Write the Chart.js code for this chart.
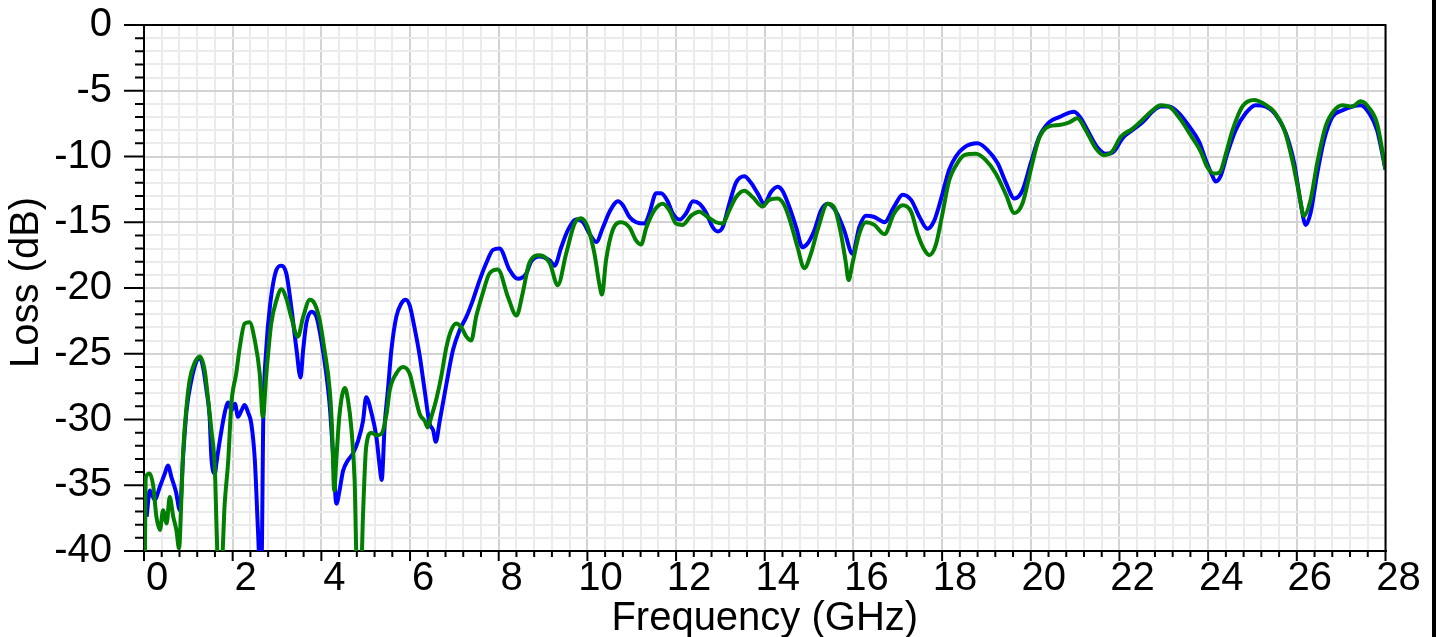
<!DOCTYPE html>
<html>
<head>
<meta charset="utf-8">
<title>Loss vs Frequency</title>
<script src="https://cdn.jsdelivr.net/npm/chart.js"></script>
<style>
    html, body { margin: 0; padding: 0; background: #fff; }
    canvas { display: block; }
</style>
</head>
<body>
<canvas id="lossChart" width="1436" height="637"></canvas>
<script>
// Frequency in GHz, loss in dB
const blueFreq = [
    0.06, 0.13, 0.24, 0.36, 0.47, 0.54, 0.62, 0.72, 0.81, 0.88,
    0.96, 1.07, 1.18, 1.26, 1.33, 1.41, 1.48, 1.52, 1.60, 1.63,
    1.71, 1.82, 1.90, 1.97, 2.05, 2.12, 2.20, 2.27, 2.35, 2.42,
    2.50, 2.57, 2.61, 2.65, 2.69, 2.76, 2.84, 2.99, 3.10, 3.21,
    3.32, 3.44, 3.53, 3.59, 3.66, 3.78, 3.89, 4.00, 4.11, 4.19,
    4.26, 4.34, 4.41, 4.49, 4.60, 4.71, 4.83, 4.94, 5.01, 5.13,
    5.24, 5.31, 5.36, 5.43, 5.50, 5.58, 5.69, 5.80, 5.90, 5.99,
    6.10, 6.22, 6.33, 6.44, 6.52, 6.58, 6.67, 6.82, 6.97, 7.12,
    7.27, 7.42, 7.57, 7.72, 7.87, 8.02, 8.24, 8.43, 8.62, 8.73,
    8.92, 9.15, 9.26, 9.41, 9.56, 9.75, 9.90, 10.05, 10.20, 10.35,
    10.50, 10.69, 10.80, 10.95, 11.10, 11.29, 11.40, 11.55, 11.66, 11.81,
    11.92, 12.08, 12.23, 12.38, 12.53, 12.68, 12.83, 12.94, 13.05, 13.20,
    13.35, 13.54, 13.69, 13.84, 13.99, 14.14, 14.29, 14.40, 14.55, 14.71,
    14.85, 14.97, 15.12, 15.27, 15.42, 15.61, 15.79, 15.98, 16.13, 16.28,
    16.47, 16.70, 16.92, 17.11, 17.30, 17.49, 17.67, 17.82, 17.97, 18.16,
    18.31, 18.50, 18.80, 19.02, 19.25, 19.44, 19.63, 19.81, 20.00, 20.19,
    20.41, 20.64, 20.98, 21.13, 21.31, 21.50, 21.69, 21.88, 22.07, 22.29,
    22.52, 22.74, 22.93, 23.12, 23.34, 23.57, 23.80, 23.95, 24.10, 24.17,
    24.28, 24.43, 24.62, 24.85, 25.07, 25.30, 25.52, 25.75, 25.94, 26.09,
    26.20, 26.31, 26.46, 26.61, 26.80, 27.02, 27.25, 27.44, 27.63, 27.81,
    28.00
]
const blueLoss = [
    -37.4, -35.4, -36.1, -35.1, -34.1, -33.5, -34.4, -35.5, -36.9, -32.9,
    -29.3, -27.0, -25.6, -25.3, -26.0, -27.8, -29.8, -32.9, -34.1, -33.4,
    -31.6, -29.5, -28.7, -29.3, -28.8, -29.8, -29.3, -28.9, -29.5, -30.3,
    -33.1, -38.4, -41.0, -41.0, -30.0, -24.5, -21.4, -18.6, -18.3, -18.9,
    -21.4, -24.7, -26.8, -24.7, -22.7, -21.8, -22.2, -24.0, -26.5, -29.0,
    -32.5, -36.4, -35.4, -33.9, -33.1, -32.6, -31.6, -30.1, -28.3, -29.5,
    -31.3, -33.4, -34.6, -30.3, -27.8, -24.7, -22.2, -21.2, -20.9, -21.3,
    -23.0, -25.2, -27.8, -30.3, -30.8, -31.7, -30.1, -27.3, -24.7, -23.2,
    -22.2, -20.9, -19.4, -18.1, -17.1, -17.0, -18.6, -19.3, -18.9, -18.0,
    -17.6, -17.9, -18.3, -16.9, -15.6, -14.8, -15.0, -15.9, -16.5, -15.4,
    -14.2, -13.4, -13.7, -14.6, -15.0, -15.1, -14.3, -12.8, -12.8, -13.4,
    -14.3, -14.8, -14.3, -13.4, -13.6, -14.3, -15.4, -15.7, -15.4, -13.6,
    -12.0, -11.5, -12.0, -12.8, -13.6, -12.7, -12.3, -12.6, -13.8, -15.4,
    -16.9, -16.6, -15.6, -14.1, -13.6, -14.2, -15.6, -17.4, -15.4, -14.5,
    -14.6, -15.0, -13.8, -12.9, -13.3, -14.6, -15.5, -14.9, -13.3, -11.0,
    -10.0, -9.3, -9.0, -9.5, -10.5, -12.0, -13.2, -12.6, -10.5, -8.5,
    -7.4, -7.0, -6.6, -7.1, -8.2, -9.3, -9.8, -9.6, -8.6, -8.0,
    -7.4, -6.6, -6.2, -6.2, -6.7, -7.7, -8.9, -10.3, -11.5, -11.9,
    -11.5, -9.8, -8.0, -6.7, -6.1, -6.2, -6.8, -8.2, -10.5, -13.6,
    -15.2, -14.3, -11.3, -8.8, -7.0, -6.5, -6.2, -6.1, -6.7, -8.0,
    -11.0
]
const greenFreq = [
    0.02, 0.04, 0.13, 0.21, 0.28, 0.36, 0.43, 0.51, 0.58, 0.66,
    0.73, 0.79, 0.85, 0.88, 0.96, 1.03, 1.14, 1.26, 1.37, 1.44,
    1.52, 1.60, 1.63, 1.67, 1.75, 1.82, 1.90, 1.97, 2.08, 2.16,
    2.27, 2.38, 2.50, 2.61, 2.68, 2.76, 2.87, 2.99, 3.10, 3.21,
    3.32, 3.47, 3.59, 3.74, 3.85, 3.96, 4.07, 4.19, 4.24, 4.29,
    4.34, 4.41, 4.53, 4.60, 4.68, 4.75, 4.80, 4.90, 4.94, 5.01,
    5.13, 5.24, 5.35, 5.47, 5.54, 5.69, 5.84, 5.99, 6.10, 6.22,
    6.33, 6.40, 6.48, 6.59, 6.70, 6.82, 6.93, 7.04, 7.16, 7.27,
    7.38, 7.49, 7.64, 7.79, 7.98, 8.21, 8.40, 8.54, 8.69, 8.92,
    9.15, 9.33, 9.52, 9.71, 9.86, 10.01, 10.16, 10.27, 10.33, 10.42,
    10.57, 10.76, 10.95, 11.10, 11.21, 11.33, 11.51, 11.70, 11.85, 12.00,
    12.15, 12.34, 12.53, 12.71, 12.90, 13.05, 13.20, 13.35, 13.54, 13.73,
    13.95, 14.10, 14.29, 14.44, 14.59, 14.74, 14.89, 15.04, 15.19, 15.42,
    15.57, 15.72, 15.83, 15.89, 15.98, 16.13, 16.28, 16.47, 16.70, 16.92,
    17.11, 17.30, 17.45, 17.60, 17.71, 17.86, 18.01, 18.16, 18.31, 18.50,
    18.76, 18.99, 19.21, 19.44, 19.63, 19.81, 20.00, 20.19, 20.41, 20.64,
    20.87, 21.05, 21.24, 21.47, 21.65, 21.84, 22.03, 22.29, 22.52, 22.74,
    22.93, 23.16, 23.38, 23.61, 23.83, 23.98, 24.13, 24.26, 24.40, 24.55,
    24.77, 25.04, 25.26, 25.49, 25.71, 25.90, 26.05, 26.16, 26.31, 26.46,
    26.65, 26.84, 27.03, 27.25, 27.44, 27.63, 27.81, 28.00
]
const greenLoss = [
    -40.5, -34.4, -34.1, -35.1, -37.4, -38.4, -36.9, -37.9, -35.9, -37.4,
    -38.4, -39.8, -35.4, -32.6, -29.0, -27.0, -25.7, -25.2, -26.3, -28.3,
    -30.8, -33.9, -37.4, -41.0, -41.0, -36.4, -33.1, -28.8, -26.5, -24.5,
    -22.7, -22.6, -24.0, -26.5, -29.8, -26.5, -22.7, -20.9, -20.1, -20.8,
    -22.2, -23.7, -22.2, -20.9, -21.2, -22.4, -24.7, -27.8, -30.6, -35.4,
    -32.9, -29.6, -27.6, -28.5, -30.8, -34.6, -41.0, -41.0, -37.2, -32.1,
    -31.0, -31.2, -31.1, -29.6, -27.8, -26.5, -26.0, -26.5, -28.0, -29.6,
    -30.1, -30.6, -29.8, -28.5, -26.8, -24.5, -23.2, -22.7, -23.0, -23.7,
    -24.0, -22.2, -20.4, -18.9, -18.6, -20.7, -22.1, -20.4, -18.1, -17.5,
    -18.1, -19.8, -17.4, -15.1, -14.7, -15.4, -17.4, -19.7, -20.5, -17.9,
    -15.6, -15.0, -15.4, -16.4, -16.7, -15.4, -14.1, -13.6, -14.1, -15.1,
    -15.2, -14.5, -14.2, -14.6, -15.0, -15.1, -14.1, -13.1, -12.6, -13.1,
    -13.8, -13.3, -13.2, -13.7, -15.1, -16.9, -18.5, -17.4, -15.6, -13.6,
    -13.9, -15.9, -18.1, -19.4, -18.1, -15.9, -15.0, -15.2, -15.9, -14.3,
    -13.7, -14.2, -15.9, -17.1, -17.5, -16.7, -14.3, -11.8, -10.7, -9.9,
    -9.8, -10.3, -11.3, -12.9, -14.3, -13.6, -11.0, -8.6, -7.7, -7.6,
    -7.4, -7.1, -8.0, -9.4, -9.9, -9.6, -8.5, -7.9, -7.2, -6.5,
    -6.1, -6.3, -7.2, -8.4, -9.6, -10.8, -11.3, -11.2, -9.8, -8.0,
    -6.2, -5.7, -6.0, -6.6, -7.9, -10.3, -12.8, -14.5, -13.3, -10.5,
    -7.7, -6.5, -6.1, -6.2, -5.8, -6.3, -7.5, -11.0
]

// Axis settings
const freqMin = 0
const freqMax = 28
const freqStep = 0.4 // minor step, labels every 2 GHz
const lossMin = -40
const lossMax = 0
const lossStep = 1 // minor step, labels every 5 dB

const fontFamily = "'Liberation Sans', Arial, Helvetica, sans-serif"
const majorGrid = '#d3d3d3'
const minorGrid = '#ebebeb'

const isMajorFreq = v => Math.abs(v / 2 - Math.round(v / 2)) < 1e-6
const isMajorLoss = v => Math.abs(v / 5 - Math.round(v / 5)) < 1e-6

const toPoints = (xs, ys) => xs.map((x, i) => ({ x: x, y: ys[i] }))

// ticks of two lengths, the frame on top/right and the bar at the right edge
const frameTicks = {
    id: 'frameTicks',
    afterDraw(chart) {
        const { ctx, chartArea: a, scales } = chart
        ctx.save()
        ctx.strokeStyle = '#000'
        ctx.lineWidth = 2
        ctx.beginPath()
        scales.y.ticks.forEach(t => {
            const py = scales.y.getPixelForValue(t.value)
            const len = isMajorLoss(t.value) ? 20 : 9
            ctx.moveTo(a.left - len, py)
            ctx.lineTo(a.left, py)
        })
        scales.x.ticks.forEach(t => {
            const px = scales.x.getPixelForValue(t.value)
            const len = isMajorFreq(t.value) ? 10 : 6
            ctx.moveTo(px, a.bottom)
            ctx.lineTo(px, a.bottom + len)
        })
        ctx.moveTo(a.left, a.top)
        ctx.lineTo(a.right, a.top)
        ctx.lineTo(a.right, a.bottom)
        ctx.stroke()
        ctx.fillStyle = '#000'
        ctx.fillRect(chart.width - 4, 0, 4, chart.height)
        ctx.restore()
    }
}

new Chart(document.getElementById('lossChart'), {
    type: 'line',
    data: {
        datasets: [
            {
                label: 'green',
                data: toPoints(greenFreq, greenLoss),
                borderColor: '#007f00',
                borderWidth: 4,
                pointRadius: 0,
                cubicInterpolationMode: 'monotone',
                clip: 0
            },
            {
                label: 'blue',
                data: toPoints(blueFreq, blueLoss),
                borderColor: '#0000ff',
                borderWidth: 4,
                pointRadius: 0,
                cubicInterpolationMode: 'monotone',
                clip: 0
            }
        ]
    },
    options: {
        responsive: false,
        animation: false,
        layout: { padding: { top: 25, right: 50.5, left: 0, bottom: 0 } },
        plugins: {
            legend: { display: false },
            tooltip: { enabled: false }
        },
        scales: {
            x: {
                type: 'linear',
                min: freqMin,
                max: freqMax,
                afterFit: s => {
                    s.height = 86
                    s.paddingLeft = 0
                    s.paddingRight = 0
                },
                border: { display: true, color: '#000', width: 2 },
                grid: {
                    drawTicks: false,
                    lineWidth: 2,
                    color: c => isMajorFreq(c.tick.value) ? majorGrid : minorGrid
                },
                ticks: {
                    stepSize: freqStep,
                    autoSkip: false,
                    maxRotation: 0,
                    minRotation: 0,
                    padding: 4,
                    labelOffset: 13,
                    color: '#000',
                    font: { family: fontFamily, size: 40 },
                    callback: v => isMajorFreq(v) ? String(Math.round(v)) : ''
                },
                title: {
                    display: true,
                    text: 'Frequency (GHz)',
                    color: '#000',
                    padding: { top: 0, bottom: -2 },
                    font: { family: fontFamily, size: 40, lineHeight: 1 }
                }
            },
            y: {
                type: 'linear',
                min: lossMin,
                max: lossMax,
                afterFit: s => {
                    s.width = 144
                    s.paddingTop = 0
                    s.paddingBottom = 0
                },
                border: { display: true, color: '#000', width: 2 },
                grid: {
                    drawTicks: false,
                    lineWidth: 2,
                    color: c => isMajorLoss(c.tick.value) ? majorGrid : minorGrid
                },
                ticks: {
                    stepSize: lossStep,
                    autoSkip: false,
                    padding: 32,
                    color: '#000',
                    font: { family: fontFamily, size: 40 },
                    callback: v => isMajorLoss(v) ? String(Math.round(v)) : ''
                },
                title: {
                    display: true,
                    text: ' Loss (dB)',
                    color: '#000',
                    padding: { top: 7, bottom: 0 },
                    font: { family: fontFamily, size: 40, lineHeight: 1 }
                }
            }
        }
    },
    plugins: [frameTicks]
})
</script>
</body>
</html>
